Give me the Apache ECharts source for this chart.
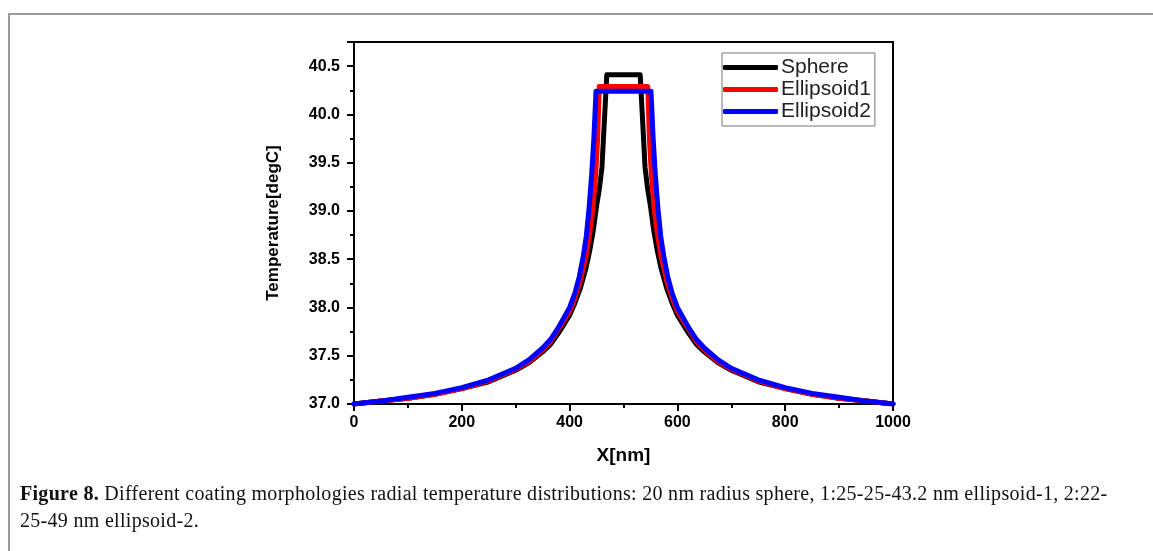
<!DOCTYPE html>
<html lang="en">
<head>
    <meta charset="UTF-8">
    <title>Figure 8</title>
    <style>
        body { margin: 0; background: #fff; }
        .frame {
            position: absolute; left: 8px; top: 13px; width: 1200px; height: 600px;
            border-left: 2px solid #9a9a9a; border-top: 2px solid #9a9a9a;
        }
        #chart { position: absolute; left: 0; top: 0; width: 1153px; height: 551px; }
        .caption {
            position: absolute; left: 20px; top: 480px; width: 1130px;
            font-family: "Liberation Serif", serif; font-size: 20px; line-height: 27px;
            color: #111; letter-spacing: 0.3px; white-space: nowrap;
        }
    </style>
    <script src="https://cdn.jsdelivr.net/npm/echarts@6/dist/echarts.min.js"></script>
</head>
<body>
    <div class="frame"></div>
    <div id="chart"></div>
    <div class="caption"><b>Figure 8.</b> Different coating morphologies radial temperature distributions: 20 nm radius sphere, 1:25-25-43.2 nm ellipsoid-1, 2:22-<br>25-49 nm ellipsoid-2.</div>
    <script>
        // values (x in nm, temperature in degC)
        var seriesNames = ['Sphere', 'Ellipsoid1', 'Ellipsoid2'];
        var seriesColors = ['#000000', '#ff0000', '#0000ff'];

        var sphereX = [0, 50, 100, 150, 200, 250, 300, 325, 350, 365, 380, 390, 400, 410, 420, 430, 437, 444, 450, 455, 460, 469,
            531, 540, 545, 550, 556, 563, 570, 580, 590, 600, 610, 620, 635, 650, 675, 700, 750, 800, 850, 900, 950, 1000];
        var sphereT = [37.00, 37.03, 37.06, 37.10, 37.16, 37.23, 37.35, 37.43, 37.54, 37.62, 37.74, 37.83, 37.92, 38.05, 38.20, 38.40, 38.58, 38.80, 39.05, 39.22, 39.45, 40.41,
            40.41, 39.45, 39.22, 39.05, 38.80, 38.58, 38.40, 38.20, 38.05, 37.92, 37.83, 37.74, 37.62, 37.54, 37.43, 37.35, 37.23, 37.16, 37.10, 37.06, 37.03, 37.00];

        var ell1X = [0, 50, 100, 150, 200, 250, 300, 325, 350, 365, 380, 390, 400, 410, 420, 430, 437, 443, 448, 452, 455,
            545, 548, 552, 557, 563, 570, 580, 590, 600, 610, 620, 635, 650, 675, 700, 750, 800, 850, 900, 950, 1000];
        var ell1T = [37.00, 37.03, 37.06, 37.10, 37.16, 37.24, 37.36, 37.44, 37.56, 37.65, 37.78, 37.87, 37.96, 38.10, 38.28, 38.52, 38.76, 39.02, 39.35, 39.75, 40.29,
            40.29, 39.75, 39.35, 39.02, 38.76, 38.52, 38.28, 38.10, 37.96, 37.87, 37.78, 37.65, 37.56, 37.44, 37.36, 37.24, 37.16, 37.10, 37.06, 37.03, 37.00];

        var ell2X = [0, 50, 100, 150, 200, 250, 300, 325, 350, 365, 380, 390, 400, 410, 418, 425, 431, 436, 441, 445, 449,
            551, 555, 559, 564, 569, 575, 582, 590, 600, 610, 620, 635, 650, 675, 700, 750, 800, 850, 900, 950, 1000];
        var ell2T = [37.00, 37.03, 37.07, 37.11, 37.17, 37.25, 37.37, 37.46, 37.58, 37.67, 37.80, 37.90, 38.00, 38.15, 38.32, 38.52, 38.74, 39.02, 39.38, 39.75, 40.24,
            40.24, 39.75, 39.38, 39.02, 38.74, 38.52, 38.32, 38.15, 38.00, 37.90, 37.80, 37.67, 37.58, 37.46, 37.37, 37.25, 37.17, 37.11, 37.07, 37.03, 37.00];

        function pairs(xs, ys) {
            return xs.map(function (x, i) { return [x, ys[i]]; });
        }

        var allData = [pairs(sphereX, sphereT), pairs(ell1X, ell1T), pairs(ell2X, ell2T)];

        var chart = echarts.init(document.getElementById('chart'));
        var axisFont = { fontFamily: 'Liberation Sans, Arial', fontWeight: 'bold', fontSize: 16, color: '#000' };

        chart.setOption({
            animation: false,
            grid: {
                left: 354, top: 42, right: 260, bottom: 147,
                show: true, borderColor: '#000', borderWidth: 2, backgroundColor: 'transparent'
            },
            legend: {
                orient: 'vertical',
                left: 722, top: 53,
                padding: [4, 4, 4, 1],
                itemGap: 1,
                itemWidth: 55, itemHeight: 5,
                icon: 'roundRect',
                borderColor: '#777', borderWidth: 1,
                textStyle: { fontFamily: 'Liberation Sans, Arial', fontSize: 21, lineHeight: 21, color: '#222', padding: [0, 0, 0, -2] },
                data: seriesNames
            },
            xAxis: {
                type: 'value', min: 0, max: 1000, interval: 200,
                name: 'X[nm]', nameLocation: 'middle', nameGap: 42,
                nameTextStyle: { fontFamily: 'Liberation Sans, Arial', fontWeight: 'bold', fontSize: 19, color: '#000' },
                axisLine: { lineStyle: { color: '#000', width: 2 } },
                axisTick: { length: 7, lineStyle: { color: '#000', width: 2 } },
                minorTick: { show: true, splitNumber: 2, length: 4, lineStyle: { color: '#000', width: 2 } },
                axisLabel: Object.assign({
                    margin: 11,
                    formatter: function (v) { return String(v); }
                }, axisFont),
                splitLine: { show: false }
            },
            yAxis: {
                type: 'value', min: 37, max: 40.75, interval: 0.5,
                name: 'Temperature[degC]', nameLocation: 'middle', nameGap: 72,
                nameTextStyle: { fontFamily: 'Liberation Sans, Arial', fontWeight: 'bold', fontSize: 17, color: '#000' },
                axisLine: { lineStyle: { color: '#000', width: 2 } },
                axisTick: { length: 7, lineStyle: { color: '#000', width: 2 } },
                minorTick: { show: true, splitNumber: 2, length: 4, lineStyle: { color: '#000', width: 2 } },
                axisLabel: Object.assign({
                    margin: 14, showMaxLabel: false,
                    formatter: function (v) { return v.toFixed(1); }
                }, axisFont),
                splitLine: { show: false }
            },
            series: seriesNames.map(function (name, i) {
                return {
                    name: name, type: 'line', data: allData[i],
                    symbol: 'none', color: seriesColors[i],
                    lineStyle: { width: 5, color: seriesColors[i], join: 'round', cap: 'round' },
                    z: 2 + i
                };
            })
        });
    </script>
</body>
</html>
